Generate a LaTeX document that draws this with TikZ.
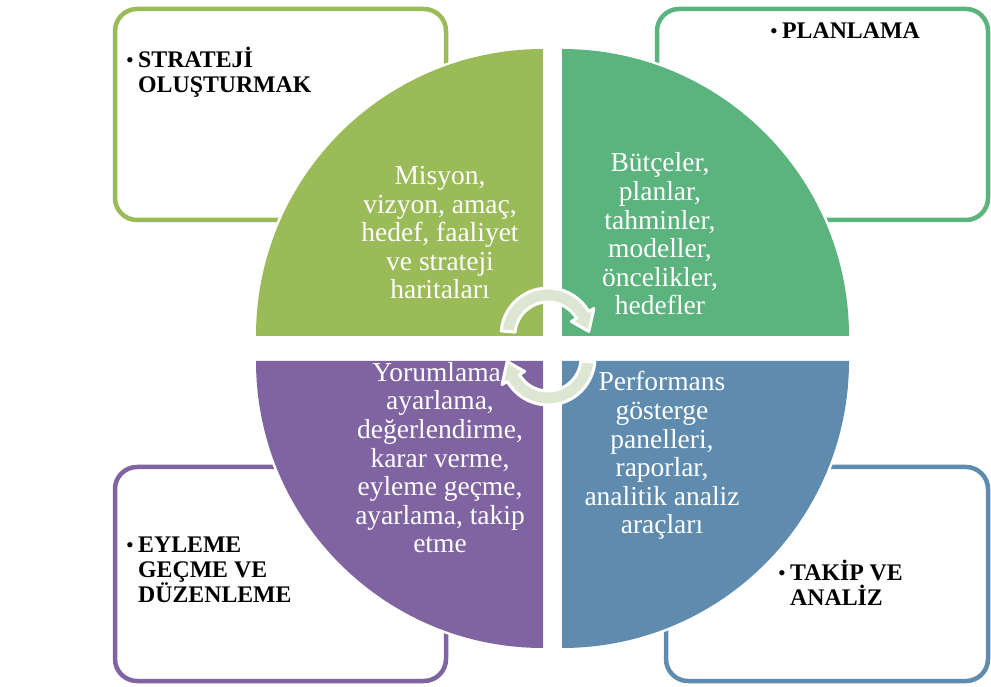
\documentclass[tikz,border=0pt]{standalone}
\usepackage{fontspec}
\setmainfont{Liberation Serif}
\definecolor{qgreen}{HTML}{9BBB59}
\definecolor{qteal}{HTML}{5BB37E}
\definecolor{qpurple}{HTML}{8064A2}
\definecolor{qblue}{HTML}{5F8CAE}
\definecolor{cyclefill}{HTML}{DCE6D2}
\newcommand{\blt}{\makebox[12pt][l]{\fontsize{22}{22}\selectfont\mdseries•}}
\begin{document}
\begin{tikzpicture}[x=1pt,y=1pt,
  frame/.style={draw, line width=4.5pt, rounded corners=22pt, inner sep=0pt},
  wedge/.style={preaction={draw=white, line width=5pt}},
  heading/.style={font=\fontsize{23.8}{25}\selectfont\bfseries, align=left, anchor=base west, inner sep=0pt},
  body/.style={text=white, font=\fontsize{27.5}{28.6}\selectfont, align=center, anchor=base, inner sep=0pt},
  cyclearrow/.style={fill=cyclefill, draw=white, line width=3pt, line join=round},
]
\useasboundingbox (0,0) rectangle (991,686);

% corner frames
\node[frame, draw=qgreen,  minimum width=331pt, minimum height=211pt] (frameTL) at (280.5,571.5) {};
\node[frame, draw=qteal,   minimum width=331pt, minimum height=211pt] (frameTR) at (822.5,571.5) {};
\node[frame, draw=qpurple, minimum width=331pt, minimum height=214pt] (frameBL) at (280.5,112) {};
\node[frame, draw=qblue,   minimum width=322pt, minimum height=214pt] (frameBR) at (827,112) {};

% frame headings (anchored at the baseline of their last line)
\node[heading] (headTL) at (126,593) {\blt STRATEJİ\\\hspace*{12pt}OLUŞTURMAK};
\node[heading] (headTR) at (770,647) {\blt PLANLAMA};
\node[heading] (headBL) at (126,84) {\blt EYLEME\\\hspace*{12pt}GEÇME VE\\\hspace*{12pt}DÜZENLEME};
\node[heading] (headBR) at (778,81) {\blt TAKİP VE\\\hspace*{12pt}ANALİZ};

% four quarter discs
\fill[wedge, qgreen]  (543,350) -- (543,637) arc[start angle=90, end angle=180, radius=287] -- cycle;
\fill[wedge, qteal]   (562,350) -- (849,350) arc[start angle=0, end angle=90, radius=287] -- cycle;
\fill[wedge, qpurple] (543,325) -- (256,325) arc[start angle=180, end angle=270, radius=287] -- cycle;
\fill[wedge, qblue]   (562,325) -- (562,38) arc[start angle=270, end angle=360, radius=287] -- cycle;

% quarter texts (anchored at the baseline of their last line)
\node[body] (textTL) at (440,387) {Misyon,\\vizyon, amaç,\\hedef, faaliyet\\ve strateji\\haritaları};
\node[body] (textTR) at (660,371) {Bütçeler,\\planlar,\\tahminler,\\modeller,\\öncelikler,\\hedefler};
\node[body] (textBL) at (440,133) {Yorumlama,\\ayarlama,\\değerlendirme,\\karar verme,\\eyleme geçme,\\ayarlama, takip\\etme};
\node[body] (textBR) at (662,152) {Performans\\gösterge\\panelleri,\\raporlar,\\analitik analiz\\araçları};

% circular arrows in the middle
\begin{scope}[shift={(548,351)}]
  \draw[cyclearrow] (175:47) arc[start angle=175, end angle=30, radius=47]
    -- (30:53) -- (5:41) -- (30:27) -- (30:33)
    arc[start angle=30, end angle=175, radius=33] -- cycle;
\end{scope}
\begin{scope}[shift={(548,328)}]
  \draw[cyclearrow] (-5:47) arc[start angle=-5, end angle=-150, radius=47]
    -- (-150:53) -- (-175:41) -- (-150:27) -- (-150:33)
    arc[start angle=-150, end angle=-5, radius=33] -- cycle;
\end{scope}
\end{tikzpicture}
\end{document}
